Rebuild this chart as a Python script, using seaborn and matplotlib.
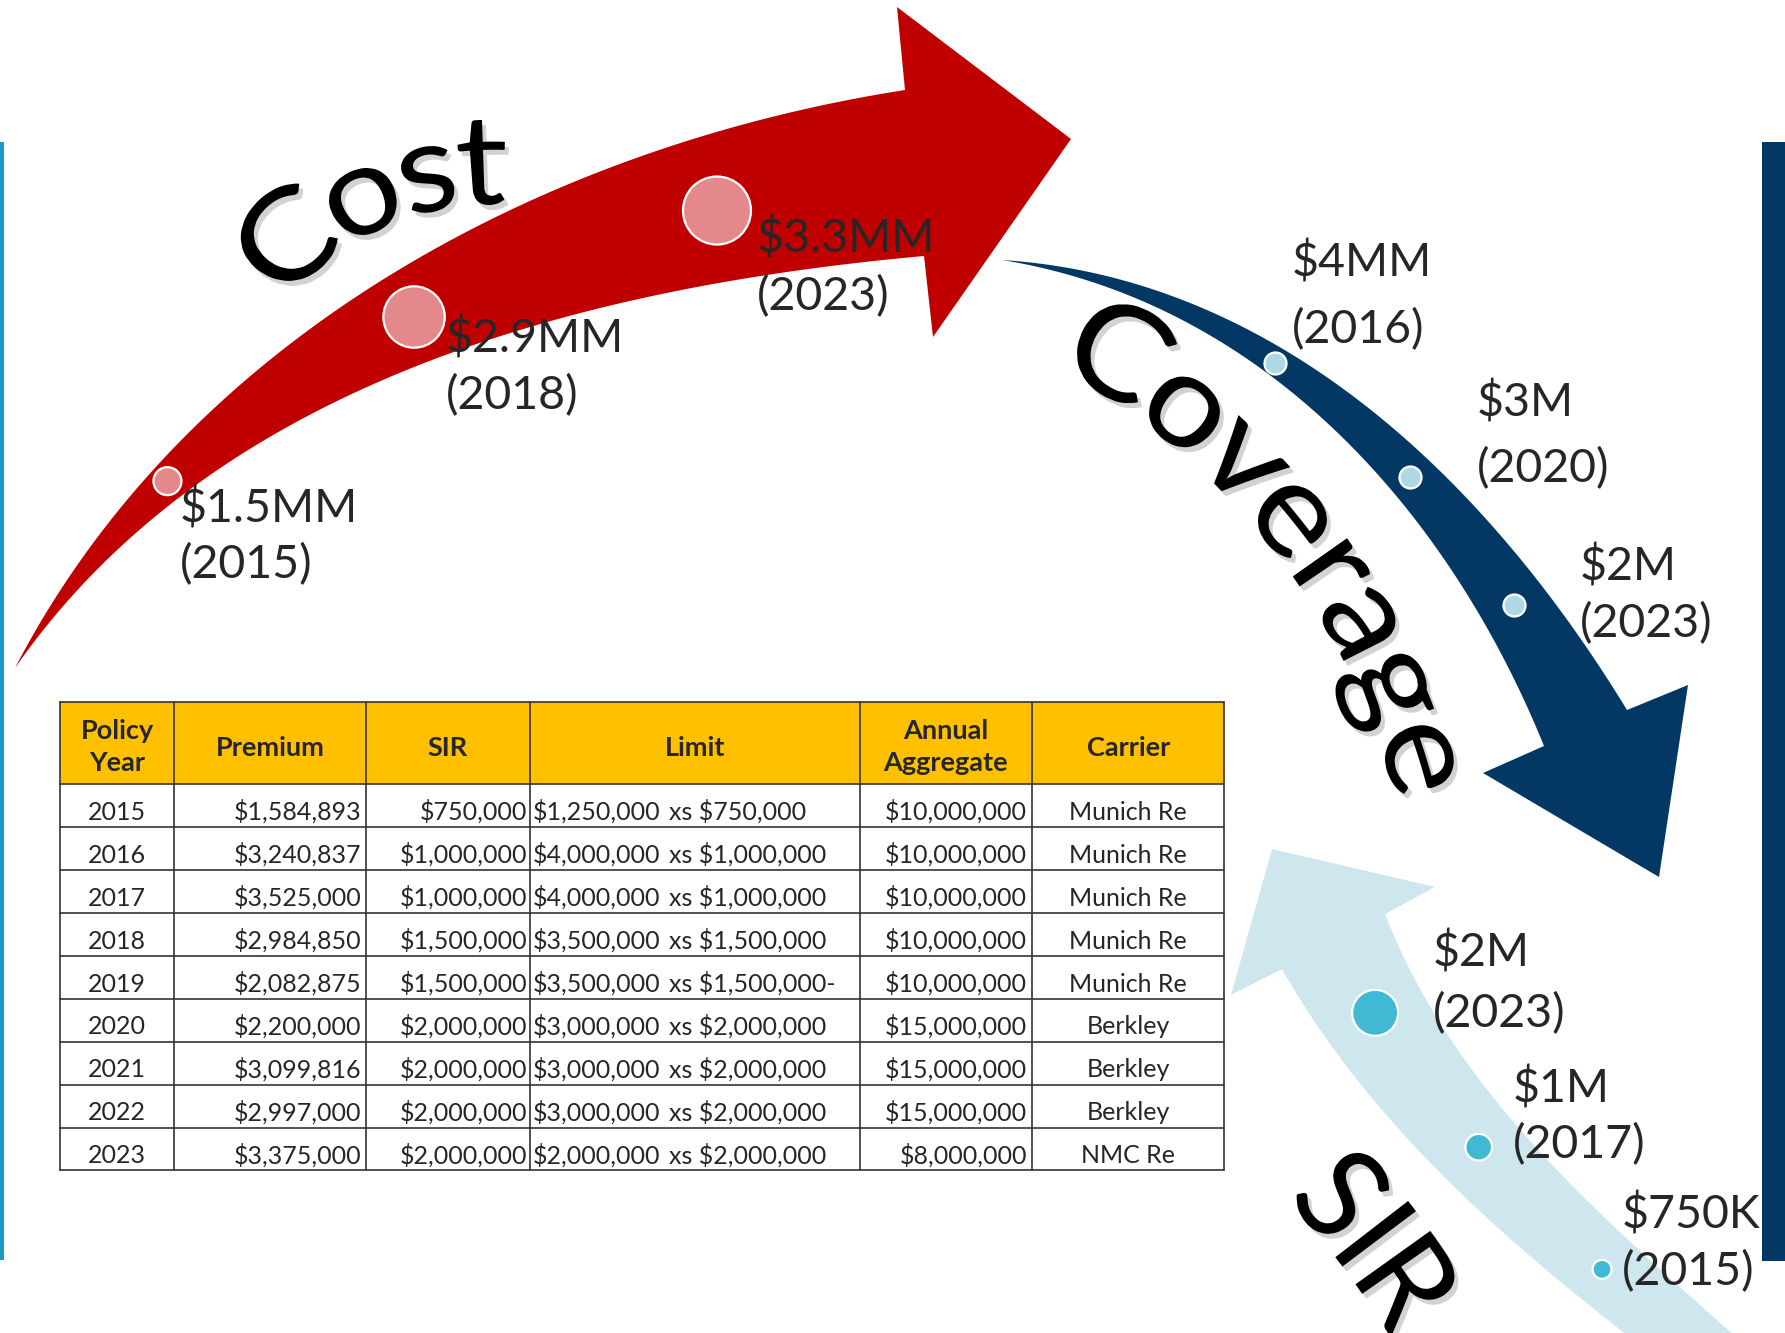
import numpy as np
import matplotlib
matplotlib.use("Agg")
import matplotlib.pyplot as plt
import seaborn as sns
from matplotlib.patches import Polygon, Rectangle, PathPatch
from matplotlib.path import Path
from matplotlib.textpath import TextPath
from matplotlib.font_manager import FontProperties

# --- chart data ---
cost_values = [1.5, 2.9, 3.3]
cost_years = [2015, 2018, 2023]
cost_labels = ["$1.5MM", "$2.9MM", "$3.3MM"]

coverage_values = [4, 3, 2]
coverage_years = [2016, 2020, 2023]
coverage_labels = ["$4MM", "$3M", "$2M"]

sir_values = [0.75, 1.0, 2.0]
sir_years = [2015, 2017, 2023]
sir_labels = ["$750K", "$1M", "$2M"]

policy_years = [2015, 2016, 2017, 2018, 2019, 2020, 2021, 2022, 2023]
premiums = [1584893, 3240837, 3525000, 2984850, 2082875, 2200000, 3099816, 2997000, 3375000]
sir_amounts = [750000, 1000000, 1000000, 1500000, 1500000, 2000000, 2000000, 2000000, 2000000]
limits = [1250000, 4000000, 4000000, 3500000, 3500000, 3000000, 3000000, 3000000, 2000000]
limit_suffix = ["", "", "", "", "-", "", "", "", ""]
aggregates = [10000000, 10000000, 10000000, 10000000, 10000000, 15000000, 15000000, 15000000, 8000000]
carriers = ["Munich Re"] * 5 + ["Berkley"] * 3 + ["NMC Re"]
headers = [["Policy", "Year"], ["Premium"], ["SIR"], ["Limit"], ["Annual", "Aggregate"], ["Carrier"]]

RED = "#C00000"
NAVY = "#033865"
LIGHT = "#CEE6EE"

sns.set_theme(style="white")
plt.rcParams["font.family"] = ["Lato", "DejaVu Sans"]


def smooth(points, n=300, deg=3):
    """Smooth curve through rough points (weighted cubic fit, pinned ends)."""
    p = np.asarray(points, dtype=float)
    s = np.concatenate([[0], np.cumsum(np.hypot(*np.diff(p, axis=0).T))])
    s /= s[-1]
    w = np.ones(len(p))
    w[[0, -1]] = 40
    t = np.linspace(0, 1, n)
    deg = min(deg, len(p) - 1)
    return np.column_stack([np.polyval(np.polyfit(s, p[:, k], deg, w=w), t) for k in (0, 1)])


def along(points, fracs):
    """Points at fractions of the arc length of a smoothed path."""
    path = smooth(points)
    d = np.hypot(*np.diff(path, axis=0).T)
    s = np.concatenate([[0], np.cumsum(d)]) / d.sum()
    return np.interp(fracs, s, path[:, 0]), np.interp(fracs, s, path[:, 1])


def draw_arrow(ax, outer, head, inner, color):
    poly = np.vstack([smooth(outer), np.asarray(head, float), smooth(inner)[::-1]])
    ax.add_patch(Polygon(poly, closed=True, facecolor=color, edgecolor="none", zorder=1))


def densify(poly, step=0.8):
    d = np.hypot(*np.diff(poly, axis=0).T)
    s = np.concatenate([[0], np.cumsum(d)])
    q = np.linspace(0, s[-1], max(int(s[-1] / step), 8))
    return np.column_stack([np.interp(q, s, poly[:, 0]), np.interp(q, s, poly[:, 1])])


def curved_word(ax, word, center, radius, mid_deg, length, cap):
    """Word bent along a clockwise arc, letter tops pointing outward."""
    fp = FontProperties(family="Lato")
    tp = TextPath((0, 0), word, size=100, prop=fp)
    cap_units = TextPath((0, 0), "H", size=100, prop=fp).get_extents().height
    ext = tp.get_extents()
    sx, sy = length / ext.width, cap / cap_units
    mid_u = (ext.x0 + ext.x1) / 2
    verts, codes = [], []
    for poly in tp.to_polygons(closed_only=True):
        poly = densify(poly)
        u = (poly[:, 0] - mid_u) * sx
        v = poly[:, 1] * sy
        phi = np.radians(mid_deg) - u / radius
        r = radius + v
        xy = np.column_stack([center[0] + r * np.cos(phi), center[1] - r * np.sin(phi)])
        verts.append(xy)
        codes += [Path.MOVETO] + [Path.LINETO] * (len(xy) - 1)
    verts = np.vstack(verts)
    shadow = Path(verts + np.array([4, 5]), codes)
    ax.add_patch(PathPatch(shadow, facecolor="#808080", edgecolor="none", alpha=0.35, zorder=5))
    ax.add_patch(PathPatch(Path(verts, codes), facecolor="black", edgecolor="none", zorder=6))


fig = plt.figure(figsize=(17.85, 13.33), dpi=100)
ax = fig.add_axes([0, 0, 1, 1])

# side bars
ax.add_patch(Rectangle((0, 142), 3.5, 1118, facecolor="#1A9BC4", edgecolor="none"))
ax.add_patch(Rectangle((1762, 142), 24, 1119, facecolor=NAVY, edgecolor="none"))

# --- Cost arrow ---
cost_outer = [(15, 668), (67, 583), (133, 490), (200, 423), (267, 364), (333, 316), (420, 252),
              (475, 224), (581, 179), (686, 144), (791, 116), (905, 90)]
cost_inner = [(15, 668), (100, 567), (167, 503), (233, 460), (300, 421), (405, 372), (510, 333),
              (616, 305), (721, 281), (924, 256)]
cost_head = [(897, 7), (1071, 139), (933, 337)]
cost_spine = [(15, 668), (141, 504), (212, 443), (357, 349), (604, 240), (810, 192), (914, 173)]
draw_arrow(ax, cost_outer, cost_head, cost_inner, RED)

# --- Coverage arrow ---
cov_outer = [(1002, 260), (1083, 273), (1183, 303), (1283, 347), (1383, 417), (1450, 475),
             (1517, 563), (1583, 647), (1627, 710)]
cov_inner = [(1002, 260), (1117, 297), (1217, 340), (1283, 380), (1350, 443), (1417, 517),
             (1450, 572), (1500, 663), (1544, 746)]
cov_head = [(1688, 685), (1659, 877), (1483, 773)]
cov_spine = [(1002, 260), (1180, 313), (1371, 435), (1550, 670), (1585, 728)]
draw_arrow(ax, cov_outer, cov_head, cov_inner, NAVY)

# --- SIR arrow ---
sir_outer = [(1745, 1345), (1680, 1283), (1647, 1257), (1580, 1197), (1513, 1123), (1447, 1030),
             (1385, 914)]
sir_inner = [(1640, 1345), (1613, 1320), (1547, 1270), (1480, 1213), (1413, 1147), (1347, 1063),
             (1282, 969)]
sir_head = [(1435, 887), (1272, 849), (1231, 995)]
sir_spine = [(1692, 1345), (1553, 1224), (1407, 1059), (1333, 941)]
draw_arrow(ax, sir_outer, sir_head, sir_inner, LIGHT)

# markers along the arrows
cx, cy = along(cost_spine, [0.228, 0.508, 0.811])
sns.scatterplot(x=cx, y=cy, size=cost_values, sizes=(406, 2397), color="#E4888B",
                edgecolor="white", linewidth=1.6, legend=False, ax=ax, zorder=4)
vx, vy = along(cov_spine, [0.378, 0.605, 0.818])
sns.scatterplot(x=vx, y=vy, s=251, color="#ADD8E6", edgecolor="white",
                linewidth=1.6, legend=False, ax=ax, zorder=4)
sx_, sy_ = along(sir_spine, [0.216, 0.535, 0.847])
sns.scatterplot(x=sx_, y=sy_, size=sir_values, sizes=(187, 1097), color="#42B9D4",
                edgecolor="white", linewidth=1.6, legend=False, ax=ax, zorder=4)

# point labels: (left x, value baseline, year baseline)
label_pos = {
    "cost": [(180, 522, 578), (446, 352, 409), (757, 253, 310)],
    "coverage": [(1292, 277, 343), (1477, 416, 482), (1580, 580, 637)],
    "sir": [(1622, 1228, 1285), (1513, 1102, 1158), (1433, 967, 1027)],
}
for key, labels, years in [("cost", cost_labels, cost_years),
                           ("coverage", coverage_labels, coverage_years),
                           ("sir", sir_labels, sir_years)]:
    for (lx, ly1, ly2), lab, yr in zip(label_pos[key], labels, years):
        ax.text(lx, ly1, lab, fontsize=33.5, ha="left", va="baseline", zorder=7)
        ax.text(lx, ly2, f"({yr})", fontsize=33.5, ha="left", va="baseline", zorder=7)

# big curved words
curved_word(ax, "Cost", (494, 474), 270, 113.5, 242, 90)
curved_word(ax, "Coverage", (731, 972), 687, 38, 558, 94)
curved_word(ax, "SIR", (628, 1804), 894, 36.9, 170, 92)

# --- table ---
col_edges = [59.6, 174.4, 365.7, 530.0, 859.6, 1031.9, 1224.4]
head_top, head_bottom, row_h = 702, 784.3, 42.9
n_rows = len(policy_years)
bottom = head_bottom + n_rows * row_h
line_kw = dict(color="#333333", linewidth=1.2, zorder=3)

ax.add_patch(Rectangle((col_edges[0], head_top), col_edges[-1] - col_edges[0],
                       head_bottom - head_top, facecolor="#FFC000", edgecolor="none", zorder=2))
for yy in [head_top, head_bottom] + [head_bottom + (i + 1) * row_h for i in range(n_rows)]:
    ax.plot([col_edges[0], col_edges[-1]], [yy, yy], **line_kw)
for xx in col_edges:
    ax.plot([xx, xx], [head_top, bottom], **line_kw)

centers = [(a + b) / 2 for a, b in zip(col_edges[:-1], col_edges[1:])]
for cxh, lines in zip(centers, headers):
    bases = [739, 771] if len(lines) == 2 else [756]
    for txt, b in zip(lines, bases):
        ax.text(cxh, b, txt, fontsize=19.5, fontweight="bold", ha="center", va="baseline", zorder=4)

tkw = dict(fontsize=18, va="baseline", zorder=4)
for i in range(n_rows):
    base = head_bottom + i * row_h + 35.7
    ax.text(centers[0], base, str(policy_years[i]), ha="center", **tkw)
    ax.text(col_edges[2] - 4, base, f"${premiums[i]:,}", ha="right", **tkw)
    ax.text(col_edges[3] - 3, base, f"${sir_amounts[i]:,}", ha="right", **tkw)
    ax.text(col_edges[3] + 3, base, f"${limits[i]:,}", ha="left", **tkw)
    ax.text(669, base, f"xs ${sir_amounts[i]:,}{limit_suffix[i]}", ha="left", **tkw)
    ax.text(col_edges[5] - 5, base, f"${aggregates[i]:,}", ha="right", **tkw)
    ax.text(centers[5], base, carriers[i], ha="center", **tkw)

ax.set_xlim(0, 1785)
ax.set_ylim(1333, 0)
ax.axis("off")
fig.savefig("out.png", dpi=100)
